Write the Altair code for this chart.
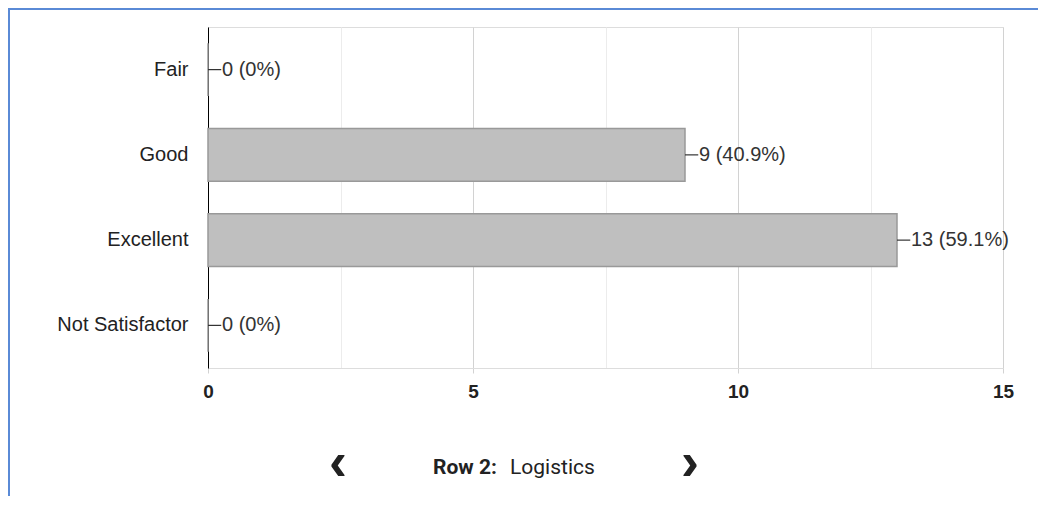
import altair as alt
import pandas as pd

# ---- data ----
categories = ["Fair", "Good", "Excellent", "Not Satisfactor"]
counts = [0, 9, 13, 0]
percents = ["0%", "40.9%", "59.1%", "0%"]
major_ticks = [0, 5, 10, 15]
minor_ticks = [2.5, 7.5, 12.5]
nav_row = "Row 2:"
nav_name = "Logistics"

df = pd.DataFrame({
    "category": categories,
    "count": counts,
    "label": [f"{c} ({p})" for c, p in zip(counts, percents)],
})

W, H = 795, 341
FONT = "Arial, Liberation Sans"

x_enc = alt.X(
    "count:Q",
    scale=alt.Scale(domain=[0, 15], nice=False),
    axis=alt.Axis(
        values=sorted(major_ticks + minor_ticks),
        labelExpr="datum.value % 5 === 0 ? datum.label : ''",
        labelFlush=False,
        title=None,
        grid=True,
        gridColor={"condition": {"test": "datum.value % 5 === 0", "value": "#d2d2d2"}, "value": "#ececec"},
        gridWidth=1,
        tickColor={"condition": {"test": "datum.value % 5 === 0", "value": "#d2d2d2"}, "value": "rgba(0,0,0,0)"},
        tickSize=5,
        domainColor="#dddddd",
        labelFont=FONT,
        labelFontSize=19,
        labelFontWeight="bold",
        labelColor="#222222",
        labelPadding=9,
    ),
)
y_sorted = alt.Y("category:N", sort=categories)
y_enc = alt.Y(
    "category:N",
    sort=categories,
    scale=alt.Scale(paddingInner=0.38, paddingOuter=0.19),
    axis=alt.Axis(
        title=None,
        ticks=False,
        grid=False,
        domainColor="#000000",
        domainWidth=1,
        labelFont=FONT,
        labelFontSize=20,
        labelColor="#222222",
        labelPadding=20,
    ),
)

bars = alt.Chart(df).mark_bar(
    color="#bfbfbf", stroke="#999999", strokeWidth=1.5
).encode(x=x_enc, y=y_enc)

leaders = alt.Chart(df).transform_calculate(
    end="datum.count + 0.25"
).mark_rule(color="#333333", strokeWidth=1.2).encode(
    x="count:Q", x2="end:Q", y=y_sorted
)

labels = alt.Chart(df).mark_text(
    align="left", baseline="middle", font=FONT, fontSize=20, color="#333333", dx=14
).encode(x="count:Q", y=y_sorted, text="label:N")

one = pd.DataFrame({"k": [0]})
border_left = alt.Chart(one).mark_rule(color="#5a8ad6", strokeWidth=2).encode(
    x=alt.value(-199), y=alt.value(-18), y2=alt.value(520)
)
border_top = alt.Chart(one).mark_rule(color="#5a8ad6", strokeWidth=2).encode(
    x=alt.value(-200), x2=alt.value(840), y=alt.value(-18)
)

nav_df = pd.DataFrame({"row": [nav_row], "name": [nav_name]})
nav_prev = alt.Chart(nav_df).mark_text(
    text="\u2039", font="Liberation Sans", fontSize=54, fontWeight="bold", color="#222222",
    align="center", baseline="middle"
).encode(x=alt.value(130), y=alt.value(437))
nav_next = alt.Chart(nav_df).mark_text(
    text="\u203a", font="Liberation Sans", fontSize=54, fontWeight="bold", color="#222222",
    align="center", baseline="middle"
).encode(x=alt.value(482), y=alt.value(437))
nav_row_t = alt.Chart(nav_df).mark_text(
    font="Roboto", fontSize=21, fontWeight="bold", color="#222222",
    align="left", baseline="middle"
).encode(x=alt.value(225), y=alt.value(441), text="row:N")
nav_name_t = alt.Chart(nav_df).mark_text(
    font="Roboto", fontSize=21, color="#222222",
    align="left", baseline="middle"
).encode(x=alt.value(302), y=alt.value(441), text="name:N")

chart = alt.layer(
    bars, leaders, labels, border_left, border_top, nav_prev, nav_next, nav_row_t, nav_name_t
).properties(
    width=W, height=H,
    autosize=alt.AutoSizeParams(type="none"),
    padding={"left": 200, "top": 19, "right": 35, "bottom": 128},
).configure_view(stroke=None).configure(background="white")

chart.save("out.html", embed_options={"renderer": "svg", "actions": False})
